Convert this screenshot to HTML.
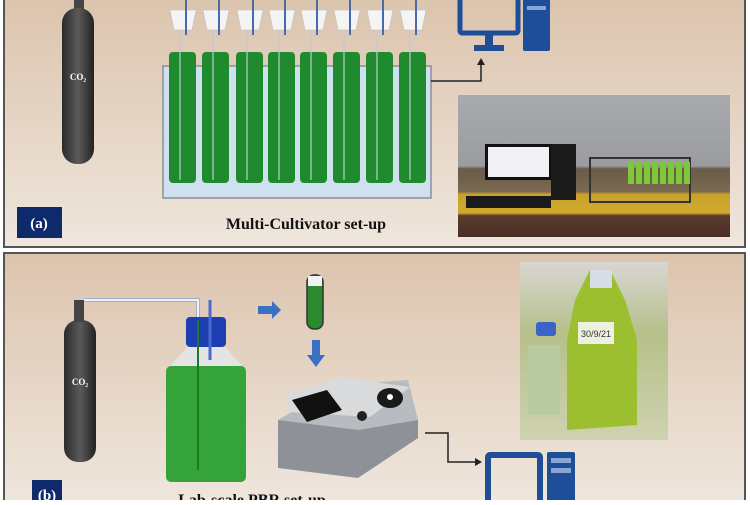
<!DOCTYPE html>
<html><head><style>body{margin:0;width:750px;height:500px;overflow:hidden;background:#fff}</style></head><body>
<svg width="750" height="500" xmlns="http://www.w3.org/2000/svg">
<defs>
<linearGradient id="bg" x1="0" y1="0" x2="0" y2="1"><stop offset="0" stop-color="#dcc4ad"/><stop offset="1" stop-color="#efe6dd"/></linearGradient>
<linearGradient id="cyl" x1="0" y1="0" x2="1" y2="0"><stop offset="0" stop-color="#2a2a2a"/><stop offset="0.5" stop-color="#5a5a5a"/><stop offset="1" stop-color="#222"/></linearGradient>
<linearGradient id="ph" x1="0" y1="0" x2="0" y2="1"><stop offset="0" stop-color="#a8aaae"/><stop offset="0.5" stop-color="#9a9ca0"/><stop offset="0.52" stop-color="#6a5a48"/><stop offset="0.68" stop-color="#7a6a50"/><stop offset="0.70" stop-color="#c8a22a"/><stop offset="0.83" stop-color="#d2aa30"/><stop offset="0.85" stop-color="#5a3a2e"/><stop offset="1" stop-color="#4a2e26"/></linearGradient>
<linearGradient id="ph2" x1="0" y1="0" x2="0" y2="1"><stop offset="0" stop-color="#d8d6d2"/><stop offset="0.4" stop-color="#b6c08a"/><stop offset="1" stop-color="#cfd2b0"/></linearGradient>
</defs>
<rect x="4" y="-2" width="741" height="249" fill="url(#bg)" stroke="#555" stroke-width="2"/>
<rect x="4" y="253" width="741" height="250" fill="url(#bg)" stroke="#555" stroke-width="2"/>
<rect x="74" y="0" width="10" height="10" fill="#444"/>
<rect x="62" y="8" width="32" height="156" rx="15" fill="url(#cyl)"/>
<text x="78" y="80" font-family="Liberation Serif,serif" font-size="9" font-weight="bold" fill="#fff" text-anchor="middle">CO₂</text>
<rect x="163" y="66" width="268" height="132" fill="#cfe0ee" stroke="#8a8f99" stroke-width="1.5"/>
<g fill="#1f8a2e">
<rect x="169" y="52" width="27" height="131" rx="4"/><rect x="202" y="52" width="27" height="131" rx="4"/>
<rect x="236" y="52" width="27" height="131" rx="4"/><rect x="268" y="52" width="27" height="131" rx="4"/>
<rect x="300" y="52" width="27" height="131" rx="4"/><rect x="333" y="52" width="27" height="131" rx="4"/>
<rect x="366" y="52" width="27" height="131" rx="4"/><rect x="399" y="52" width="27" height="131" rx="4"/>
</g>
<g fill="#f4f4f4" stroke="#bbb" stroke-width="0.5">
<path d="M170 10h26l-4 20h-18z"/><path d="M203 10h26l-4 20h-18z"/><path d="M237 10h26l-4 20h-18z"/><path d="M269 10h26l-4 20h-18z"/>
<path d="M301 10h26l-4 20h-18z"/><path d="M334 10h26l-4 20h-18z"/><path d="M367 10h26l-4 20h-18z"/><path d="M400 10h26l-4 20h-18z"/>
</g>
<g stroke="#4a6aa8" stroke-width="2">
<path d="M186 0v35M219 0v35M253 0v35M285 0v35M317 0v35M350 0v35M383 0v35M416 0v35"/>
</g>
<g stroke="#bfcbd6" stroke-width="1.2" fill="none">
<path d="M180 30v150M213 30v150M247 30v150M279 30v150M311 30v150M344 30v150M377 30v150M410 30v150"/>
</g>
<path d="M431 81H481V64" stroke="#222" stroke-width="1.5" fill="none"/>
<path d="M477 65l4-7 4 7z" fill="#222"/>
<rect x="460" y="-5" width="58" height="38" rx="2" fill="none" stroke="#1f4e99" stroke-width="5"/>
<rect x="485" y="33" width="8" height="12" fill="#1f4e99"/><rect x="474" y="45" width="30" height="6" fill="#1f4e99"/>
<rect x="523" y="-4" width="27" height="55" rx="2" fill="#1f4e99"/>
<rect x="527" y="6" width="19" height="4" fill="#8aa6d6"/>
<rect x="458" y="95" width="272" height="142" fill="url(#ph)"/>
<rect x="485" y="144" width="67" height="36" fill="#111"/><rect x="488" y="147" width="61" height="30" fill="#f2f2f6"/>
<rect x="551" y="144" width="25" height="56" fill="#1a1a1a"/>
<rect x="466" y="196" width="85" height="12" fill="#1a1a1a"/>
<rect x="590" y="158" width="100" height="44" fill="none" stroke="#333" stroke-width="2"/>
<g fill="#7ec83a"><rect x="628" y="162" width="6" height="22"/><rect x="636" y="162" width="6" height="22"/><rect x="644" y="162" width="6" height="22"/><rect x="652" y="162" width="6" height="22"/><rect x="660" y="162" width="6" height="22"/><rect x="668" y="162" width="6" height="22"/><rect x="676" y="162" width="6" height="22"/><rect x="684" y="162" width="6" height="22"/></g>
<rect x="17" y="207" width="45" height="31" fill="#0f2a6b"/>
<text x="39" y="228" font-family="Liberation Serif,serif" font-size="15" font-weight="bold" fill="#fff" text-anchor="middle">(a)</text>
<text x="306" y="229" font-family="Liberation Serif,serif" font-size="16" font-weight="bold" fill="#111" text-anchor="middle">Multi-Cultivator set-up</text>
<rect x="64" y="320" width="32" height="142" rx="14" fill="url(#cyl)"/>
<rect x="74" y="300" width="10" height="22" fill="#444"/>
<text x="80" y="385" font-family="Liberation Serif,serif" font-size="9" font-weight="bold" fill="#fff" text-anchor="middle">CO₂</text>
<path d="M84 300H198V320" stroke="#9fb3cc" stroke-width="4" fill="none"/>
<path d="M84 300H198V320" stroke="#eef2f8" stroke-width="2" fill="none"/>
<path d="M170 366l18-20h36l18 20z" fill="#e4e8ec" opacity="0.8"/>
<rect x="166" y="366" width="80" height="116" rx="5" fill="#33a33a"/>
<rect x="186" y="317" width="40" height="30" rx="4" fill="#1e3fb4"/>
<path d="M198 320V470" stroke="#1a7a25" stroke-width="2"/>
<path d="M210 300V360" stroke="#4a6ad0" stroke-width="3"/>
<path d="M258 306h14v-5l9 9-9 9v-5h-14z" fill="#3b70c4"/>
<rect x="307" y="275" width="16" height="54" rx="7" fill="#2a8a2e" stroke="#333" stroke-width="1.5"/>
<rect x="308" y="276" width="14" height="10" fill="#f2f2f2"/>
<path d="M312 340h8v15h5l-9 12-9-12h5z" fill="#3b70c4"/>
<path d="M278 420l60-35 70 -5 10 40-60 45-60-5z" fill="#b8bcc0"/>
<path d="M278 420l80 10 60-10v18l-60 40-80-10z" fill="#8e9298"/>
<path d="M285 395l55-18 70 10-40 30-80-5z" fill="#d8dadc"/>
<path d="M292 400l35-10 15 20-35 12z" fill="#111"/>
<ellipse cx="390" cy="398" rx="13" ry="10" fill="#1a1a1a"/><circle cx="390" cy="397" r="3" fill="#fff"/>
<circle cx="362" cy="416" r="5" fill="#222"/>
<path d="M425 433H448V462H476" stroke="#222" stroke-width="1.5" fill="none"/>
<path d="M475 458l7 4-7 4z" fill="#222"/>
<rect x="488" y="455" width="52" height="50" rx="2" fill="none" stroke="#1f4e99" stroke-width="6"/>
<rect x="547" y="452" width="28" height="55" rx="2" fill="#1f4e99"/>
<rect x="551" y="458" width="20" height="5" fill="#8aa6d6"/><rect x="551" y="468" width="20" height="5" fill="#8aa6d6"/>
<rect x="520" y="262" width="148" height="178" fill="url(#ph2)"/>
<path d="M575 300l15-30h20l15 30 12 40v85l-70 5v-90z" fill="#9bbf2e"/>
<rect x="590" y="270" width="22" height="18" fill="#d8dce4"/>
<path d="M528 345h32v70h-32z" fill="#b8caa0"/>
<rect x="536" y="322" width="20" height="14" rx="3" fill="#3a64c6"/>
<rect x="578" y="322" width="36" height="22" fill="#eef0e0"/>
<text x="596" y="337" font-family="Liberation Sans,sans-serif" font-size="9" fill="#333" text-anchor="middle">30/9/21</text>
<rect x="32" y="480" width="30" height="25" fill="#0f2a6b"/>
<text x="47" y="500" font-family="Liberation Serif,serif" font-size="15" font-weight="bold" fill="#fff" text-anchor="middle">(b)</text>
<text x="252" y="505" font-family="Liberation Serif,serif" font-size="16" font-weight="bold" fill="#111" text-anchor="middle">Lab-scale PBR set-up</text>
</svg>
</body></html>
